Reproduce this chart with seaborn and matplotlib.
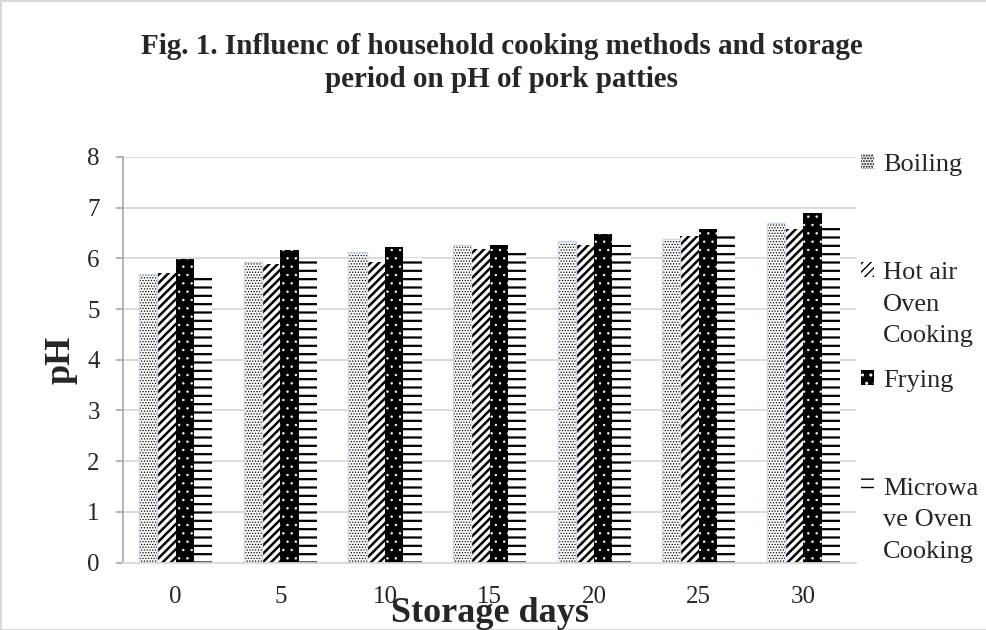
import pandas as pd
import seaborn as sns
import matplotlib.pyplot as plt
from matplotlib.patches import Rectangle

# ==== data
days = ['0', '5', '10', '15', '20', '25', '30']
methods = ['Boiling', 'Hot air Oven Cooking', 'Frying', 'Microwave Oven Cooking']
boiling = [5.69, 5.93, 6.12, 6.26, 6.35, 6.38, 6.69]
hot_air = [5.71, 5.89, 5.93, 6.18, 6.27, 6.43, 6.57]
frying = [5.99, 6.17, 6.22, 6.26, 6.47, 6.57, 6.90]
microwave = [5.67, 5.96, 6.00, 6.16, 6.27, 6.47, 6.68]
legend_labels = ['Boiling\n\n', 'Hot air\nOven\nCooking', 'Frying\n\n', 'Microwa\nve Oven\nCooking']

data = pd.DataFrame({
    'day': days * 4,
    'pH': boiling + hot_air + frying + microwave,
    'method': [m for m in methods for _ in days],
})

sns.set_style('white')
plt.rcParams['font.family'] = ['Liberation Serif', 'DejaVu Serif']

# face, hatch, hatch colour, hatch width
styles = {
    'Boiling': ('white', '......', 'black', 0.6),
    'Hot air Oven Cooking': ('white', '////', 'black', 1.8),
    'Frying': ('black', '..', 'white', 0.5),
    'Microwave Oven Cooking': ('white', '--', 'black', 1.6),
}

fig = plt.figure(figsize=(9.87, 6.3), dpi=100)
ax = fig.add_axes([0.125, 0.107, 0.742, 0.644])

sns.barplot(data=data, x='day', y='pH', hue='method', hue_order=methods,
            palette=['white'] * 4, width=0.7, gap=0, errorbar=None,
            legend=False, ax=ax)

for cont, m in zip(ax.containers, methods):
    face, hatch, hcol, hlw = styles[m]
    for p in cont.patches:
        p.set_facecolor(face)
        p.set_hatch(hatch)
        p.set_edgecolor(hcol)
        p.set_linewidth(0)
        if hasattr(p, 'set_hatch_linewidth'):
            p.set_hatch_linewidth(hlw)
        if m == 'Boiling':
            ax.add_patch(Rectangle(p.get_xy(), p.get_width(), p.get_height(),
                                   fill=False, edgecolor='#c9d7ec', linewidth=1.0, zorder=3))

ax.set_ylim(0, 8)
ax.set_yticks(range(0, 9))
ax.yaxis.grid(True, color='#d9d9d9', linewidth=1.3)
ax.set_axisbelow(True)
for s in ['top', 'right']:
    ax.spines[s].set_visible(False)
ax.spines['left'].set_color('#a6a6a6')
ax.spines['bottom'].set_color('#d9d9d9')
ax.spines['left'].set_linewidth(1.2)
ax.spines['bottom'].set_linewidth(1.3)
ax.tick_params(axis='y', length=5, color='#a6a6a6', width=1.2, pad=12, labelsize=18, left=True)
ax.tick_params(axis='x', length=0, pad=17, labelsize=18)

ax.set_xlabel('Storage days', fontsize=26, fontweight='bold')
ax.xaxis.set_label_coords(0.5, -0.085)
ax.set_ylabel('pH', fontsize=26, fontweight='bold')
ax.yaxis.set_label_coords(-0.063, 0.5)

fig.text(0.508, 0.9, 'Fig. 1. Influenc of household cooking methods and storage\nperiod on pH of pork patties',
         ha='center', va='center', fontsize=21, fontweight='bold', linespacing=1.3)

leg = ax.legend(ax.containers, legend_labels, loc='upper left', bbox_to_anchor=(0.872, 0.755),
                bbox_transform=fig.transFigure, frameon=False, fontsize=19,
                handlelength=0.5, handleheight=0.5, handletextpad=0.35,
                labelspacing=0.88, borderpad=0, borderaxespad=0)
for t in leg.get_texts():
    t.set_linespacing(1.55)
for col in leg._legend_handle_box.get_children():
    for row in col.get_children():
        row.align = 'top'

fig.patch.set_edgecolor('#d9d9d9')
fig.patch.set_linewidth(2)

plt.savefig('out.png', dpi=100, edgecolor=fig.get_edgecolor())
